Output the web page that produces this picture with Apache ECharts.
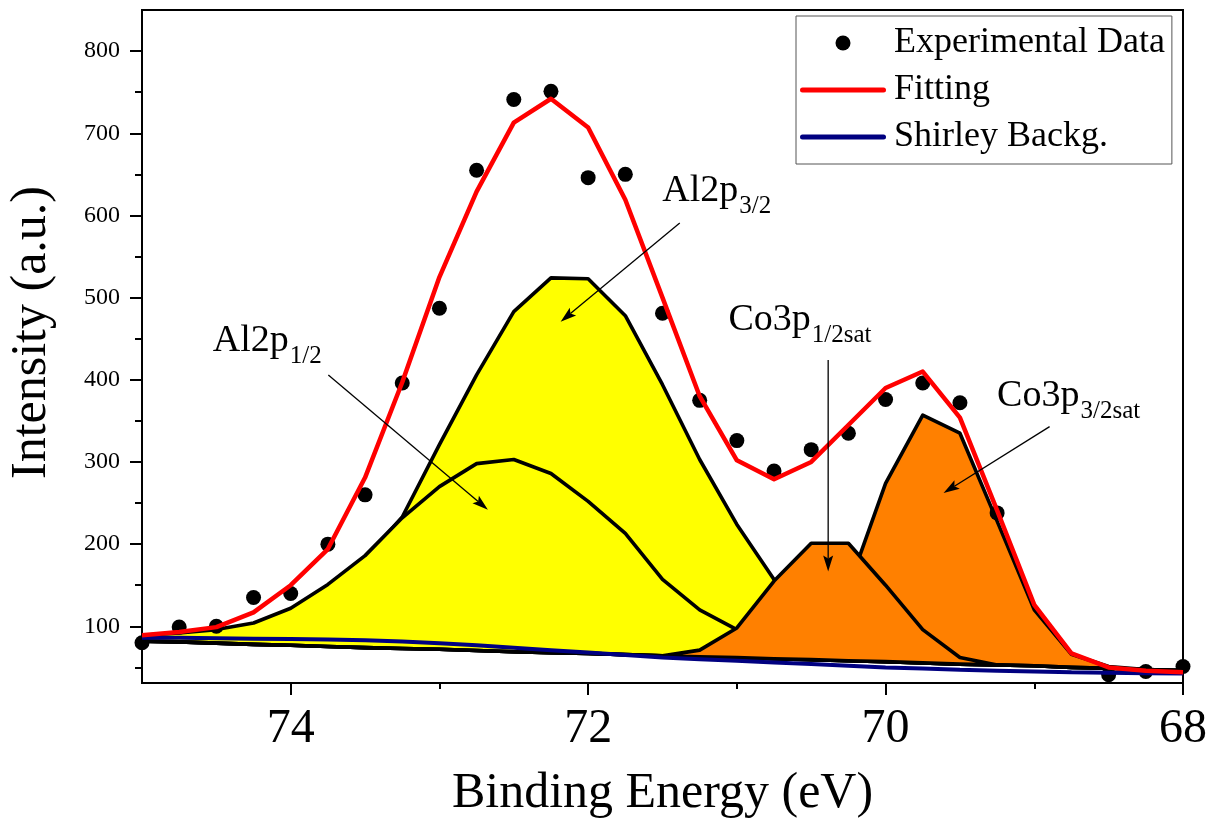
<!DOCTYPE html>
<html><head><meta charset="utf-8">
<script src="https://cdn.jsdelivr.net/npm/echarts@6/dist/echarts.min.js"></script>
<style>html,body{margin:0;padding:0;background:#fff}#c{width:1215px;height:818px}</style>
</head><body><div id="c"></div>
<script>
// Binding energy grid (eV)
const energy = [75, 74.75, 74.5, 74.25, 74, 73.75, 73.5, 73.25, 73, 72.75, 72.5, 72.25, 72, 71.75, 71.5, 71.25, 71, 70.75, 70.5, 70.25, 70, 69.75, 69.5, 69.25, 69, 68.75, 68.5, 68.25, 68];
// Experimental points
const expData = [80, 99, 100, 135, 140, 200, 260, 396, 487, 655, 741, 751, 646, 650, 481, 375, 326, 289, 315, 335, 376, 396, 372, 238, null, null, 41, 45, 51];
// Fitting envelope
const fitting = [89, 93, 99, 117, 150, 194, 281, 397, 525, 629, 713, 742, 707, 619, 500, 380, 302, 279, 300, 345, 390, 410, 354, 241, 126, 67, 50, 46, 44];
// Shirley background
const shirley = [86, 86, 85.5, 85, 84.5, 84, 83, 81.5, 79.5, 77, 74, 71, 68, 65, 62, 60, 58, 56, 54, 52, 50, 48.5, 47, 46, 45, 44, 43.5, 43, 42.5];
// Baseline under the fitted components
const peakBase = [82, 81, 79.5, 78, 77, 75.5, 74, 73, 72, 70.5, 69, 68, 67, 65.5, 64, 63, 62, 60.5, 59.5, 58, 57, 55.5, 54, 53, 52, 50, 49, 47.5, 46];
// Components
const al2p32 = [86, 88, 92, 100, 116, 144, 182, 233, 321, 406, 483, 524, 523, 478, 394, 303, 224, 157, 105, 80, 66, 58, 54, 53, 52, 50, 49, 47.5, 46];
const al2p12 = [89, 92, 96, 104, 122, 151, 186, 232, 270, 298, 303, 286, 252, 213, 157, 120, 96, 80, 70, 64, 60, 56, 54, 53, 52, 50, 49, 47.5, 46];
const co3p12 = [82, 81, 79.5, 78, 77, 75.5, 74, 73, 72, 70.5, 69, 68, 67, 65.5, 64, 71, 98, 155, 201, 201, 150, 96, 62, 53, 52, 50, 49, 47.5, 46];
const co3p32 = [82, 81, 79.5, 78, 77, 75.5, 74, 73, 72, 70.5, 69, 68, 67, 65.5, 64, 63, 62, 63, 90, 147, 274, 357, 335, 228, 120, 66, 51, 47.5, 46];
// Ticks
const xMajor = [68, 70, 72, 74];
const xMinor = [69, 71, 73];
const yMajor = [100, 200, 300, 400, 500, 600, 700, 800];
const yMinor = [50, 150, 250, 350, 450, 550, 650, 750];
// Annotations (data coordinates)
const annLabels = [
  {main: 'Al2p', sub: '1/2', e: 74.524, v: 432.6},
  {main: 'Al2p', sub: '3/2', e: 71.502, v: 614.8},
  {main: 'Co3p', sub: '1/2sat', e: 71.057, v: 458},
  {main: 'Co3p', sub: '3/2sat', e: 69.25, v: 365.7}
];
const annArrows = [
  {from: [73.747, 405.8], to: [72.674, 241.8]},
  {from: [71.384, 590.9], to: [72.185, 470.6]},
  {from: [70.386, 424], to: [70.386, 166.8]},
  {from: [68.897, 343], to: [69.61, 262.1]}
];

const FONT = '"Liberation Serif", "Times New Roman", serif';
const chart = echarts.init(document.getElementById('c'), null, {renderer: 'canvas'});

function pairs(vals) { return energy.map((e, i) => [e, vals[i]]); }

function peakSeries(name, vals, color) {
  return {
    type: 'custom', name: name, coordinateSystem: 'cartesian2d',
    silent: true, clip: true,
    data: [[energy[0], vals[0]]],
    renderItem: function (params, api) {
      const pts = [];
      for (let i = 0; i < energy.length; i++) pts.push(api.coord([energy[i], vals[i]]));
      for (let i = energy.length - 1; i >= 0; i--) pts.push(api.coord([energy[i], peakBase[i]]));
      return {type: 'polygon', shape: {points: pts},
        style: {fill: color, stroke: '#000', lineWidth: 3.6, lineJoin: 'round'}};
    }
  };
}

const axisBlack = {color: '#000', width: 2};
const lineIcon = 'path://M2.5,0 H83.5 A2.5,2.5 0 0 1 83.5,5 H2.5 A2.5,2.5 0 0 1 2.5,0 Z';

const option = {
  animation: false,
  backgroundColor: '#fff',
  grid: {left: 142, right: 32, top: 10, bottom: 135, show: true, borderColor: '#000', borderWidth: 2,
         backgroundColor: 'transparent', containLabel: false, outerBoundsMode: 'none'},
  xAxis: [
    {type: 'value', min: 68, max: 75, inverse: true, position: 'bottom',
     axisLine: {show: true, onZero: false, lineStyle: axisBlack},
     axisTick: {show: true, inside: false, length: 12, lineStyle: axisBlack, customValues: xMajor},
     axisLabel: {customValues: xMajor, fontSize: 48, fontFamily: FONT, color: '#000', margin: 22},
     splitLine: {show: false},
     name: 'Binding Energy (eV)', nameLocation: 'middle', nameGap: 86,
     nameTextStyle: {fontSize: 50, fontFamily: FONT, color: '#000'}},
    {type: 'value', min: 68, max: 75, inverse: true, position: 'bottom',
     axisLine: {show: false},
     axisTick: {show: true, inside: false, length: 6, lineStyle: axisBlack, customValues: xMinor},
     axisLabel: {show: false}, splitLine: {show: false}}
  ],
  yAxis: [
    {type: 'value', min: 31, max: 850, position: 'left',
     axisLine: {show: true, onZero: false, lineStyle: axisBlack},
     axisTick: {show: true, inside: false, length: 12, lineStyle: axisBlack, customValues: yMajor},
     axisLabel: {customValues: yMajor, fontSize: 24, fontFamily: FONT, color: '#000', margin: 22},
     splitLine: {show: false},
     name: 'Intensity (a.u.)', nameLocation: 'middle', nameGap: 85, nameRotate: 90,
     nameTextStyle: {fontSize: 50, fontFamily: FONT, color: '#000', padding: [0, 0, 0, 28]}},
    {type: 'value', min: 31, max: 850, position: 'left',
     axisLine: {show: false},
     axisTick: {show: true, inside: false, length: 7, lineStyle: axisBlack, customValues: yMinor},
     axisLabel: {show: false}, splitLine: {show: false}}
  ],
  legend: {
    data: [
      {name: 'Experimental Data', icon: 'circle'},
      {name: 'Fitting', icon: lineIcon},
      {name: 'Shirley Backg.', icon: lineIcon}
    ],
    orient: 'vertical', left: 796, top: 16,
    itemWidth: 86, itemHeight: 15, itemGap: 11,
    padding: [9, 7, 9, 4],
    borderColor: '#555', borderWidth: 1, backgroundColor: '#fff',
    selectedMode: false,
    textStyle: {fontSize: 36, fontFamily: FONT, color: '#000', lineHeight: 34, padding: [0, 0, 0, 3]}
  },
  series: [
    peakSeries('Al2p3/2', al2p32, '#ffff00'),
    peakSeries('Al2p1/2', al2p12, '#ffff00'),
    peakSeries('Co3p3/2sat', co3p32, '#ff8000'),
    peakSeries('Co3p1/2sat', co3p12, '#ff8000'),
    {type: 'line', name: 'Shirley Backg.', data: pairs(shirley), symbol: 'none',
     lineStyle: {color: '#000080', width: 4}, itemStyle: {color: '#000080'}, silent: true},
    {type: 'line', name: 'Fitting', data: pairs(fitting), symbol: 'none',
     lineStyle: {color: '#ff0000', width: 4.5, join: 'round'}, itemStyle: {color: '#ff0000'}, silent: true},
    {type: 'scatter', name: 'Experimental Data', data: pairs(expData).filter(p => p[1] !== null),
     symbol: 'circle', symbolSize: 15, itemStyle: {color: '#000', opacity: 1}, silent: true, clip: false}
  ]
};
chart.setOption(option);

// Annotations
const ctx = document.createElement('canvas').getContext('2d');
const MAIN_FS = 38, SUB_FS = 25;
const gr = [];
function px(p) { return chart.convertToPixel({xAxisIndex: 0, yAxisIndex: 0}, p); }
annLabels.forEach(a => {
  const p = px([a.e, a.v]);
  ctx.font = MAIN_FS + 'px ' + FONT;
  const w = ctx.measureText(a.main).width;
  gr.push({type: 'text', x: p[0], y: p[1] - 0.32 * MAIN_FS, z: 100,
    style: {text: a.main, fontSize: MAIN_FS, fontFamily: FONT, fill: '#000', align: 'left', verticalAlign: 'middle'}});
  gr.push({type: 'text', x: p[0] + w + 1, y: p[1] + 11 - 0.32 * SUB_FS, z: 100,
    style: {text: a.sub, fontSize: SUB_FS, fontFamily: FONT, fill: '#000', align: 'left', verticalAlign: 'middle'}});
});
annArrows.forEach(a => {
  const p1 = px(a.from), p2 = px(a.to);
  const dx = p2[0] - p1[0], dy = p2[1] - p1[1];
  const len = Math.sqrt(dx * dx + dy * dy);
  const ux = dx / len, uy = dy / len, nx = -uy, ny = ux;
  const L = 16, W = 5;
  const bx = p2[0] - ux * L, by = p2[1] - uy * L;
  const nxp = p2[0] - ux * L * 0.8, nyp = p2[1] - uy * L * 0.8;
  gr.push({type: 'line', z: 100, shape: {x1: p1[0], y1: p1[1], x2: nxp, y2: nyp}, style: {stroke: '#000', lineWidth: 1.3}});
  gr.push({type: 'polygon', z: 100, shape: {points: [[p2[0], p2[1]], [bx + nx * W, by + ny * W], [nxp, nyp], [bx - nx * W, by - ny * W]]}, style: {fill: '#000'}});
});
chart.setOption({graphic: gr});
</script>
</body></html>
